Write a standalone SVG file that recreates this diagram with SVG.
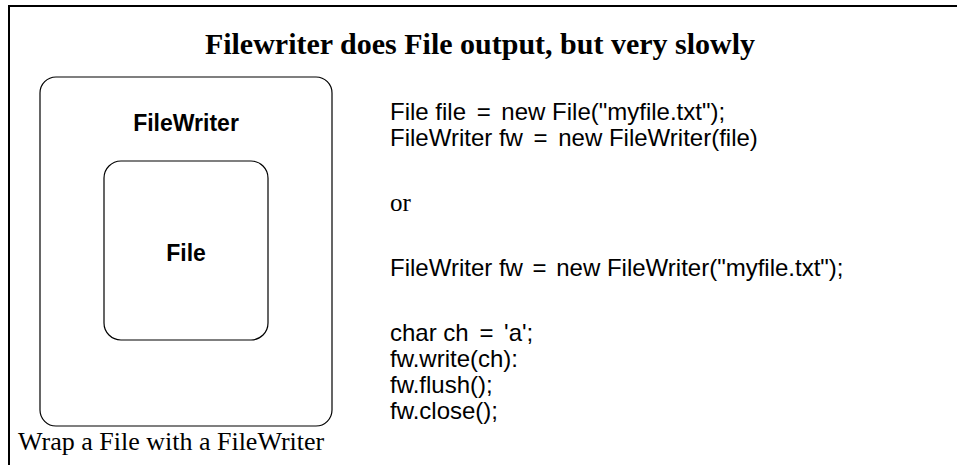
<svg xmlns="http://www.w3.org/2000/svg" width="957" height="465" viewBox="0 0 957 465">
<style>
.frame{fill:none;stroke:#000;stroke-width:2}
.box{fill:#fff;stroke:#000;stroke-width:1.2}
.lbl{font-family:"Liberation Sans",Arial,sans-serif;font-weight:bold;font-size:23px;text-anchor:middle;fill:#000}
.code{font-family:"Liberation Sans",Arial,sans-serif;font-size:24px;fill:#000}
.serif{font-family:"Liberation Serif","Times New Roman",serif;fill:#000}
</style>
<rect width="957" height="465" fill="#fff"/>
<path class="frame" d="M9,465 V6 H957"/>
<text class="serif" x="480" y="54" font-size="30" font-weight="bold" text-anchor="middle">Filewriter does File output, but very slowly</text>
<g id="filewriter">
<rect class="box" x="40" y="77" width="292" height="349" rx="16"/>
<text class="lbl" x="186" y="131">FileWriter</text>
</g>
<g id="file">
<rect class="box" x="104" y="161" width="164" height="179" rx="17"/>
<text class="lbl" x="186" y="261">File</text>
</g>
<g id="connectors"/>
<text class="serif" x="18" y="450" font-size="26">Wrap a File with a FileWriter</text>
<g id="code">
<text class="code" x="390" y="120">File file <tspan dx="4">=</tspan><tspan dx="4"> new File("myfile.txt");</tspan></text>
<text class="code" x="390" y="146">FileWriter fw <tspan dx="4">=</tspan><tspan dx="4"> new FileWriter(file)</tspan></text>
<text class="serif" x="390" y="211" font-size="25">or</text>
<text class="code" x="390" y="276">FileWriter fw <tspan dx="3">=</tspan><tspan dx="3"> new FileWriter("myfile.txt");</tspan></text>
<text class="code" x="390" y="341">char ch <tspan dx="4">=</tspan><tspan dx="4"> 'a';</tspan></text>
<text class="code" x="390" y="367">fw.write(ch):</text>
<text class="code" x="390" y="393">fw.flush();</text>
<text class="code" x="390" y="419">fw.close();</text>
</g>
</svg>
